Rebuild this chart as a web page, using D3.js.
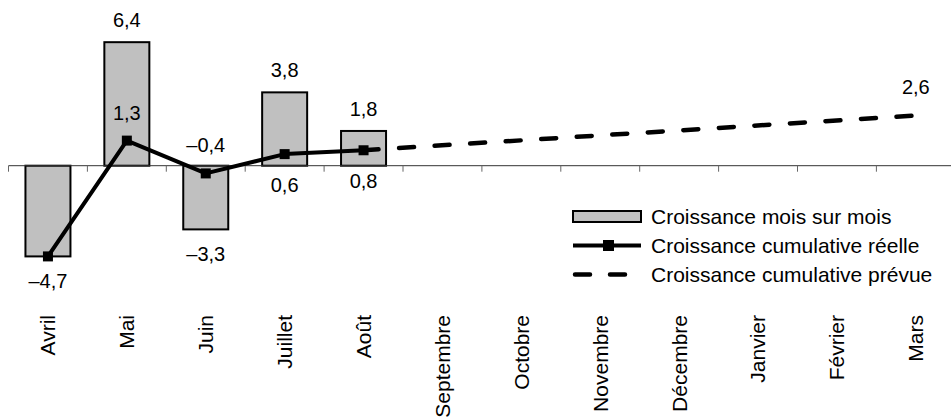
<!DOCTYPE html>
<html>
<head>
<meta charset="utf-8">
<script src="https://cdn.jsdelivr.net/npm/d3@7"></script>
<style>
  html, body { margin: 0; padding: 0; background: #fff; }
  svg { display: block; font-family: "Liberation Sans", Arial, sans-serif; }
</style>
</head>
<body>
<svg id="chart" width="951" height="418"></svg>
<script>
// ---- data ----
const months = ["Avril","Mai","Juin","Juillet","Août","Septembre","Octobre","Novembre","Décembre","Janvier","Février","Mars"];
const monthly = [-4.7, 6.4, -3.3, 3.8, 1.8];            // Croissance mois sur mois
const cumulative = [-4.7, 1.3, -0.4, 0.6, 0.8];         // Croissance cumulative réelle
const forecastMonths = ["Août", "Mars"];                // Croissance cumulative prévue
const forecast = [0.8, 2.6];
const cumLabelSide = [null, "above", "above", "below", "below"];
const legendLabels = ["Croissance mois sur mois", "Croissance cumulative réelle", "Croissance cumulative prévue"];

// ---- layout ----
const svg = d3.select("#chart");
const x = d3.scaleBand().domain(months).range([8.5, 8.5 + 12 * 78.9]).padding(0);
const y = d3.scaleLinear().domain([-6, 8]).range([165.7 + 6 * 19.3, 165.7 - 8 * 19.3]);
const fmt = v => v.toFixed(1).replace(".", ",").replace("-", "\u2013");
const cx = m => x(m) + x.bandwidth() / 2;
const barW = 45;

// bars
svg.append("g").selectAll("rect").data(monthly).join("rect")
  .attr("x", (d, i) => cx(months[i]) - barW / 2)
  .attr("y", d => y(Math.max(0, d)))
  .attr("width", barW)
  .attr("height", d => Math.abs(y(d) - y(0)))
  .attr("fill", "#c0c0c0").attr("stroke", "#000").attr("stroke-width", 2);

// axis
const axis = d3.axisBottom(x).tickSize(0).tickFormat("");
const gAxis = svg.append("g").attr("transform", `translate(0,${y(0)})`).call(axis);
gAxis.select(".domain").remove();
gAxis.append("line").attr("x1", 8.5).attr("x2", 951).attr("y1", 0).attr("y2", 0)
  .attr("stroke", "#333").attr("stroke-width", 1);
gAxis.selectAll(".bnd").data(months).join("line").attr("class", "bnd")
  .attr("x1", d => x(d)).attr("x2", d => x(d)).attr("y1", 0).attr("y2", 6)
  .attr("stroke", "#666").attr("stroke-width", 1);

// category labels
svg.append("g").selectAll("text").data(months).join("text")
  .attr("transform", d => `translate(${cx(d)},315) rotate(-90)`)
  .attr("text-anchor", "end").attr("dy", "0.35em")
  .attr("font-size", 21).attr("fill", "#000")
  .text(d => d);

// forecast dashed line
const line = d3.line().x(d => cx(d[0])).y(d => y(d[1]));
svg.append("path")
  .datum(forecastMonths.map((m, i) => [m, forecast[i]]))
  .attr("d", line).attr("fill", "none").attr("stroke", "#000")
  .attr("stroke-width", 4.5).attr("stroke-linecap", "round")
  .attr("stroke-dasharray", "15,20.6");

// actual cumulative line
svg.append("path")
  .datum(cumulative.map((v, i) => [months[i], v]))
  .attr("d", line).attr("fill", "none").attr("stroke", "#000")
  .attr("stroke-width", 4).attr("stroke-linejoin", "round");
svg.append("g").selectAll("rect").data(cumulative).join("rect")
  .attr("x", (d, i) => cx(months[i]) - 5)
  .attr("y", d => y(d) - 5)
  .attr("width", 10).attr("height", 10).attr("fill", "#000");

// bar labels
svg.append("g").selectAll("text").data(monthly).join("text")
  .attr("x", (d, i) => cx(months[i]))
  .attr("y", d => d >= 0 ? y(d) - 15 : y(d) + 32)
  .attr("text-anchor", "middle").attr("font-size", 20).attr("fill", "#000")
  .text(d => fmt(d));

// cumulative labels
svg.append("g").selectAll("text").data(cumulative.map((v, i) => ({v, i})).filter(d => cumLabelSide[d.i]))
  .join("text")
  .attr("x", d => cx(months[d.i]))
  .attr("y", d => cumLabelSide[d.i] === "above" ? y(d.v) - 21 : y(d.v) + 38)
  .attr("text-anchor", "middle").attr("font-size", 20).attr("fill", "#000")
  .text(d => fmt(d.v));

// forecast end label
svg.append("text")
  .attr("x", cx(forecastMonths[1]))
  .attr("y", y(forecast[1]) - 22)
  .attr("text-anchor", "middle").attr("font-size", 20).attr("fill", "#000")
  .text(fmt(forecast[1]));

// legend
const lg = svg.append("g");
const rowY = [216.5, 245.5, 274.5];
lg.append("rect").attr("x", 573).attr("y", rowY[0] - 5.5).attr("width", 68).attr("height", 11)
  .attr("fill", "#c0c0c0").attr("stroke", "#000").attr("stroke-width", 2);
lg.append("line").attr("x1", 573).attr("x2", 641).attr("y1", rowY[1]).attr("y2", rowY[1])
  .attr("stroke", "#000").attr("stroke-width", 4);
lg.append("rect").attr("x", 603).attr("y", rowY[1] - 5.5).attr("width", 11).attr("height", 11).attr("fill", "#000");
lg.append("line").attr("x1", 575).attr("x2", 641).attr("y1", rowY[2]).attr("y2", rowY[2])
  .attr("stroke", "#000").attr("stroke-width", 4.5).attr("stroke-linecap", "round")
  .attr("stroke-dasharray", "15,20");
lg.selectAll("text.lt").data(legendLabels).join("text").attr("class", "lt")
  .attr("x", 651).attr("y", (d, i) => rowY[i]).attr("dy", "0.35em")
  .attr("font-size", 21).attr("fill", "#000").text(d => d);
</script>
</body>
</html>
